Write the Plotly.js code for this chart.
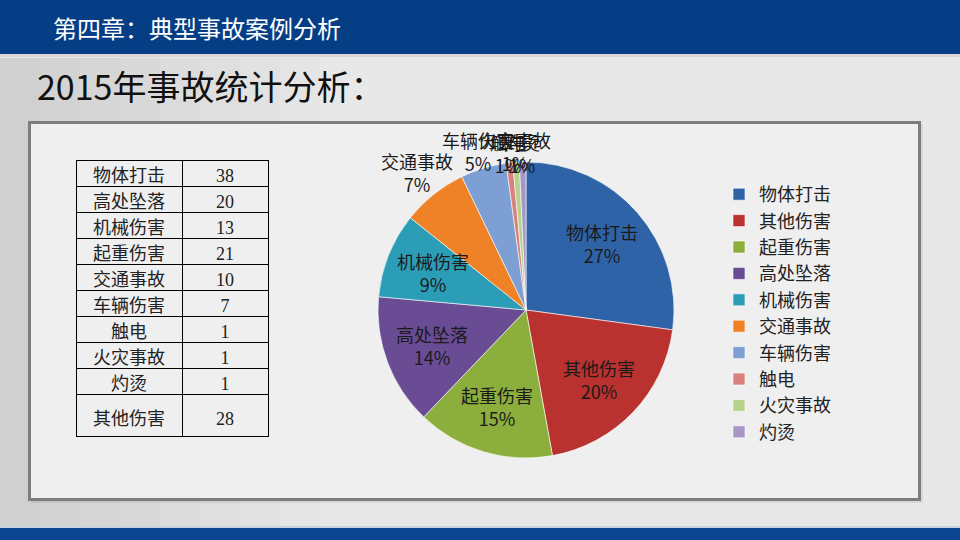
<!DOCTYPE html>
<html><head><meta charset="utf-8">
<script src="https://cdn.plot.ly/plotly-3.0.1.min.js"></script>
<style>html,body{margin:0;padding:0;background:#e4e4e4}#chart{width:960px;height:540px}</style>
</head><body><div id="chart"></div>
<script>
// ---- data ----
const tableNames = ['物体打击','高处坠落','机械伤害','起重伤害','交通事故','车辆伤害','触电','火灾事故','灼烫','其他伤害'];
const tableValues = [38,20,13,21,10,7,1,1,1,28];
const pieLabels = ['物体打击','其他伤害','起重伤害','高处坠落','机械伤害','交通事故','车辆伤害','触电','火灾事故','灼烫'];
const pieValues = [38,28,21,20,13,10,7,1,1,1];
const pieColors = ['#2F63A8','#B9322F','#8BAE3C','#6A4C95','#2C9DB6','#EF8227','#7E9FD3','#D8817F','#B7D28B','#A796C7'];
const chapterTitle = '第四章：典型事故案例分析';
const slideTitle = '2015年事故统计分析：';

// ---- layout geometry ----
const W = 960, H = 540;
const px = x => x / W, py = y => 1 - y / H;
const CJK = 'Noto Sans CJK SC, sans-serif';
const PIE_CX = 526, PIE_CY = 310, PIE_R = 148;
const LABEL_FS = 18;

// table rows: last row given an extra (blank) first line so the row is taller
const cellNames = tableNames.slice(1).map((n, i, a) => i === a.length - 1 ? '<br>' + n : n);
const cellVals = tableValues.slice(1).map((v, i, a) => i === a.length - 1 ? '<br>' + v : String(v));

const table = {
  type: 'table',
  domain: {x: [px(76), px(268)], y: [py(470), py(160)]},
  columnwidth: [106, 86],
  header: {
    values: [[tableNames[0]], [String(tableValues[0])]],
    height: 26, align: 'center',
    line: {color: '#000', width: 1},
    fill: {color: 'rgba(0,0,0,0)'},
    font: {family: [CJK, 'Liberation Serif'], size: [18, 18], color: '#222'}
  },
  cells: {
    values: [cellNames, cellVals],
    height: 26, align: 'center',
    line: {color: '#000', width: 1},
    fill: {color: 'rgba(0,0,0,0)'},
    font: {family: [CJK, 'Liberation Serif'], size: [18, 18], color: '#222'}
  }
};

const pie = {
  type: 'pie',
  labels: pieLabels,
  values: pieValues,
  sort: false,
  direction: 'clockwise',
  rotation: 0,
  marker: {colors: pieColors, line: {color: 'rgba(255,255,255,0.6)', width: 1}},
  textinfo: 'none',
  domain: {x: [px(PIE_CX - PIE_R), px(PIE_CX + PIE_R)], y: [py(PIE_CY + PIE_R), py(PIE_CY - PIE_R)]},
  hoverinfo: 'label+value+percent'
};

// ---- slice labels, placed from the data along each slice's bisector ----
const total = pieValues.reduce((a, b) => a + b, 0);
let cum = 0;
const sliceLabels = pieValues.map((v, i) => {
  const mid = (cum + v / 2) / total * 2 * Math.PI;
  cum += v;
  const s = Math.sin(mid), c = Math.cos(mid);
  const pct = Math.round(v / total * 100) + '%';
  const inside = v / total >= 0.08;
  let dist;
  if (inside) {
    dist = 0.68 * PIE_R;
  } else {
    const w = pieLabels[i].length * LABEL_FS, h = 46;
    dist = PIE_R + Math.abs(s) * w / 2 + Math.abs(c) * h / 2 - 10 - 5 * Math.abs(c) * Math.abs(c);
  }
  return {
    text: pieLabels[i] + '<br>' + pct,
    xref: 'paper', yref: 'paper',
    x: px(PIE_CX + dist * s), y: py(PIE_CY - dist * c),
    xanchor: 'center', yanchor: 'middle', showarrow: false,
    font: {family: CJK, size: LABEL_FS, color: '#1a1a1a'}
  };
});

// soft left-side shading of the slide background
const shade = [];
for (let k = 0; k < 8; k++) {
  shade.push({type: 'rect', xref: 'paper', yref: 'paper', x0: 0, x1: px(40 + k * 40), y0: py(528), y1: py(58),
    fillcolor: 'rgba(0,0,0,0.012)', line: {width: 0}, layer: 'below'});
}

const layout = {
  width: W, height: H,
  margin: {l: 0, r: 0, t: 0, b: 0},
  paper_bgcolor: '#e8e8e8',
  showlegend: true,
  legend: {
    x: px(719), y: py(176), xanchor: 'left', yanchor: 'top',
    font: {family: CJK, size: 18, color: '#222'},
    bgcolor: 'rgba(0,0,0,0)', traceorder: 'normal'
  },
  shapes: shade.concat([
    // top band
    {type: 'rect', xref: 'paper', yref: 'paper', x0: 0, x1: 1, y0: py(54), y1: 1, fillcolor: '#063E85', line: {width: 0}, layer: 'below'},
    {type: 'rect', xref: 'paper', yref: 'paper', x0: 0, x1: 1, y0: py(57), y1: py(54), fillcolor: '#dcd6d2', line: {width: 0}, layer: 'below'},
    // bottom band
    {type: 'rect', xref: 'paper', yref: 'paper', x0: 0, x1: 1, y0: 0, y1: py(528), fillcolor: '#0B4590', line: {width: 0}, layer: 'below'},
    {type: 'rect', xref: 'paper', yref: 'paper', x0: 0, x1: 1, y0: py(528), y1: py(526), fillcolor: '#c9d2de', line: {width: 0}, layer: 'below'},
    // frame shadow
    {type: 'rect', xref: 'paper', yref: 'paper', x0: px(31), x1: px(923), y0: py(503), y1: py(124), fillcolor: 'rgba(0,0,0,0.07)', line: {width: 0}, layer: 'below'},
    // frame
    {type: 'rect', xref: 'paper', yref: 'paper', x0: px(29.5), x1: px(919.5), y0: py(499.5), y1: py(122.5), fillcolor: '#efefef', line: {color: '#7d7d7d', width: 3}, layer: 'below'}
  ]),
  annotations: [
    {text: chapterTitle, xref: 'paper', yref: 'paper', x: px(51), y: py(27), xanchor: 'left', yanchor: 'middle', showarrow: false,
     font: {family: CJK, size: 24, color: '#ffffff'}},
    {text: slideTitle, xref: 'paper', yref: 'paper', x: px(35), y: py(86), xanchor: 'left', yanchor: 'middle', showarrow: false,
     font: {family: CJK, size: 34, color: '#111111'}}
  ].concat(sliceLabels)
};

Plotly.newPlot('chart', [table, pie], layout, {displayModeBar: false, staticPlot: true});
</script>
</body></html>
